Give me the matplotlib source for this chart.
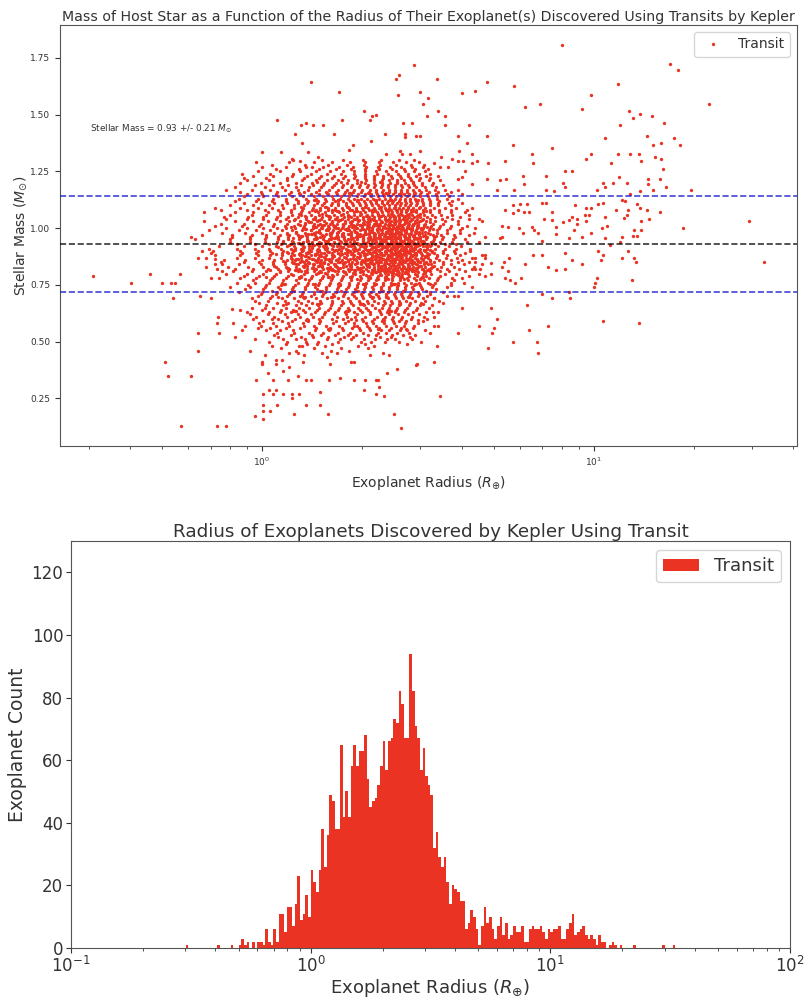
import matplotlib
matplotlib.use('Agg')
import numpy as np
import matplotlib.pyplot as plt

RED = '#EA3323'
INK = '#333333'

# host star mass and exoplanet radius, sparse parts
outer_points = [
    (2.87,1.72),(2.59,1.675),(2.53,1.655),(1.40,1.645),(1.71,1.60),(2.57,1.585),(2.99,1.60),(3.17,1.575),(3.05,1.545),(3.15,1.495),
    (2.03,1.515),(2.2,1.50),(2.15,1.495),(2.11,1.475),(1.11,1.475),(1.74,1.475),(1.36,1.465),(1.31,1.455),(1.42,1.455),(1.53,1.455),
    (1.26,1.415),(1.65,1.415),(2.66,1.465),(2.83,1.465),(2.35,1.415),(2.7,1.415),(2.7,1.40),(2.91,1.405),(2.99,1.405),(2.13,1.385),
    (1.32,1.375),(1.88,1.365),(1.83,1.345),(1.0,1.335),(1.14,1.335),(1.38,1.335),(2.6,1.34),(2.64,1.325),(2.36,1.325),(2.8,1.325),
    (3.0,1.34),(1.23,1.305),(1.47,1.315),(1.3,1.295),(1.41,1.27),(8.0,1.805),(17,1.725),(18,1.695),(3.37,1.655),(4.76,1.645),
    (5.75,1.625),(4.0,1.595),(4.4,1.605),(11.8,1.635),(9.8,1.585),(9.2,1.525),(6.2,1.535),(6.9,1.545),(22.2,1.545),(12.8,1.515),
    (13.1,1.485),(13.8,1.505),(15,1.495),(16.3,1.465),(12,1.455),(3.4,1.515),(3.56,1.495),(3.56,1.455),(4.2,1.455),(3.9,1.405),
    (4.76,1.405),(10.8,1.395),(14.5,1.405),(17.5,1.395),(4.15,1.375),(5.7,1.365),(7.5,1.355),(15.1,1.365),(16,1.375),(18.2,1.365),
    (3.93,1.34),(4.3,1.325),(6.5,1.325),(9.8,1.325),(9.5,1.305),(11.8,1.325),(12.9,1.325),(13.7,1.325),(15.3,1.315),(16,1.305),
    (13.9,1.295),(11.3,1.285),(5.4,1.295),(6.55,1.285),(4.8,1.285),(4.3,1.285),(4.45,1.295),(3.47,1.315),(3.74,1.305),(3.9,1.295),
    (4.03,1.295),(3.3,1.285),(3.45,1.27),(3.64,1.27),(16.2,1.26),(8.2,1.25),(8.6,1.25),(4.1,1.25),(6.1,1.23),(7.2,1.23),
    (11.9,1.225),(4.0,1.225),(3.9,1.215),(4.76,1.215),(5.2,1.21),(5.45,1.215),(8.1,1.2),(10.7,1.2),(11.4,1.2),(12.6,1.2),
    (14.6,1.215),(15.8,1.215),(14.6,1.195),(6.15,1.195),(4.3,1.195),(16.5,1.18),(19.6,1.17),(8.2,1.18),(7.2,1.17),(13.8,1.165),
    (15.1,1.17),(10.2,1.17),(10.8,1.18),(5.1,1.17),(5.75,1.17),(7.6,1.163),(29.3,1.03),(18.6,1.0),(15.8,1.07),(14.7,1.04),
    (14.5,1.08),(13.9,1.03),(13.5,1.105),(13.8,1.09),(12.9,1.15),(12.2,1.125),(12.4,1.12),(12.7,1.08),(12.3,1.045),(11.7,1.08),
    (12.6,1.06),(13.2,0.99),(13.9,0.99),(13.5,0.965),(13.1,0.965),(10.7,1.11),(10.3,1.105),(9.8,1.09),(9.5,1.09),(9.7,1.06),
    (9.4,1.06),(8.9,1.04),(8.6,1.05),(8.8,1.10),(8.1,1.025),(8.4,1.035),(8.9,1.02),(8.7,0.99),(8.4,0.955),(9.2,0.96),
    (9.5,1.03),(10.8,1.05),(11,1.01),(9.8,0.98),(10.6,1.0),(10.8,0.955),(11.2,0.925),(12,0.94),(12.2,0.96),(7.5,1.07),
    (7.1,1.04),(7.5,1.035),(7.7,1.005),(7.7,0.975),(7.0,1.11),(7.2,1.11),(5.7,1.10),(5.4,1.08),(5.7,1.065),(5.9,1.08),
    (6.0,1.105),(6.3,1.105),(6.15,1.07),(6.4,1.07),(5.3,1.01),(5.5,1.005),(5.2,0.955),(5.3,0.96),(5.95,1.0),(6.1,0.98),
    (6.5,1.005),(6.6,0.99),(6.8,0.98),(7.0,0.945),(4.7,0.96),(4.6,1.03),(4.5,1.04),(32.6,0.85),(13.7,0.58),(10.7,0.59),
    (13,0.77),(13.2,0.87),(13.4,0.85),(12.2,0.87),(12.7,0.90),(10.5,0.86),(10.7,0.88),(10.2,0.78),(10.1,0.76),(10,0.74),
    (10.3,0.90),(9.2,0.84),(8.6,0.86),(8.2,0.82),(8.2,0.89),(8.4,0.72),(8.5,0.69),(7.5,0.69),(7.0,0.71),(7.3,0.83),
    (7.7,0.815),(7.0,0.88),(6.55,0.88),(6.2,0.84),(6.05,0.78),(5.8,0.76),(5.6,0.77),(5.4,0.78),(5.55,0.87),(5.35,0.85),
    (5.3,0.83),(5.5,0.81),(4.9,0.845),(4.9,0.80),(4.7,0.79),(4.54,0.82),(4.4,0.85),(4.7,0.88),(4.4,0.87),(4.3,0.82),
    (4.2,0.79),(4.0,0.78),(3.8,0.70),(4,0.65),(4.9,0.65),(6.3,0.66),(5.1,0.60),(4.5,0.57),(5.0,0.56),(4.95,0.54),
    (6.4,0.55),(7.3,0.57),(5.7,0.50),(6.75,0.50),(4.8,0.47),(6.8,0.45),(3.9,0.54),(3.3,0.41),(3.45,0.26),(3.3,0.69),
    (3.27,0.63),(3.4,0.63),(3.3,0.61),(3.3,0.57),(0.31,0.79),(0.403,0.76),(0.46,0.80),(0.50,0.76),(0.53,0.76),(0.547,0.76),
    (0.566,0.80),(0.54,0.69),(0.64,0.87),(0.66,0.90),(0.68,0.83),(0.70,0.78),(0.65,0.70),(0.70,0.69),(0.72,0.865),(0.72,0.84),
    (0.76,0.81),(0.74,0.78),(0.81,0.645),(0.86,0.64),(0.735,0.61),(0.73,0.58),(0.74,0.54),(0.64,0.54),(0.64,0.46),(0.82,0.58),
    (0.83,0.52),(0.89,0.57),(0.87,0.55),(0.95,0.51),(0.92,0.62),(0.93,0.65),(0.92,0.46),(0.51,0.41),(0.52,0.35),(0.61,0.35),
    (0.57,0.13),(0.73,0.13),(0.78,0.13),(0.95,0.17),(1.01,0.16),(1.01,0.22),(1.01,0.195),(1.06,0.195),(1.11,0.22),(1.25,0.18),
    (1.36,0.22),(1.5,0.22),(1.58,0.18),(2.5,0.18),(2.62,0.12),(0.96,0.33),(1.08,0.33),(1.2,0.33),(1.36,0.33),(1.4,0.33),
    (1.59,0.33),(1.72,0.34),(1.9,0.33),(2.04,0.33),(2.2,0.33),(2.24,0.33),(2.03,0.288),(2.25,0.30),(2.2,0.27),(2.33,0.26),
    (1.5,0.28),(1.05,0.288),(1.1,0.288),(1.01,0.27),(1.08,0.27),(1.16,0.27),(1.23,0.27),(1.23,0.25),(1.29,0.27),(1.04,0.36),
    (1.16,0.37),(1.21,0.39),(1.28,0.35),(1.0,0.41),(1.0,0.40),(1.1,0.42),(1.1,0.40),(1.15,0.42),(1.33,0.41),(1.57,0.43),
    (1.6,0.40),(1.85,0.41),(1.9,0.41),(2.38,0.36),(2.55,0.38),(2.91,0.395),(2.94,0.40),
]

# denser parts, one row of radii per stellar mass value
row_mass = [0.46,0.44,0.47,0.45,0.49,0.48,0.52,0.50,0.53,0.51,0.55,0.58,0.54,0.56,0.59,0.57,0.62,0.60,0.64,0.61,0.66,0.63,0.67,0.65,0.69,0.71,0.68,0.73,0.70,0.75,0.72,0.77,0.74,0.79,0.76,0.80,0.78]
row_radii = [
    [1.27,1.61,1.83],
    [1.02,1.34,2.12,2.41],
    [1.14,1.43,1.73,2.09],
    [1.21,1.28,1.52,1.68,2.31],
    [1.18,1.37,1.46,1.63,2.05,2.74],
    [1.07,1.29,1.32,1.55,1.95,2.17,3.36],
    [1.12,1.31,1.42,1.58,1.77,1.88,2.27,2.45,2.79],
    [1.05,1.19,1.36,1.47,1.69,1.99,2.13,2.34,2.58,3.02],
    [1.09,1.22,1.41,1.51,1.66,1.81,1.92,2.08,2.21,2.47,2.66,2.9],
    [1.16,1.27,1.35,1.57,1.72,1.86,2.03,2.19,2.38,2.52,2.83],
    [1.03,1.13,1.24,1.44,1.59,1.75,1.97,2.11,2.29,2.42,2.61,2.74,3.1],
    [0.98,1.08,1.2,1.33,1.48,1.64,1.78,1.9,2.06,2.16,2.33,2.5,2.69,2.95],
    [1.11,1.25,1.39,1.53,1.7,1.84,2.01,2.24,2.37,2.55,2.78,3.2],
    [0.97,1.06,1.18,1.3,1.45,1.6,1.74,1.87,1.96,2.1,2.26,2.44,2.63,2.86],
    [1.01,1.15,1.23,1.38,1.5,1.67,1.82,2.02,2.14,2.3,2.48,2.59,2.72,3.05],
    [0.99,1.1,1.21,1.34,1.43,1.56,1.71,1.89,1.94,2.07,2.2,2.36,2.53,2.67,2.88,3.4],
    [1.04,1.17,1.28,1.4,1.54,1.65,1.79,1.93,2.12,2.28,2.41,2.57,2.76,2.98],
    [0.94,1.07,1.12,1.26,1.37,1.49,1.62,1.76,1.85,2.0,2.18,2.32,2.46,2.62,2.81,3.15],
    [1.0,1.14,1.24,1.33,1.46,1.58,1.7,1.83,1.98,2.09,2.25,2.39,2.54,2.7,2.92],
    [0.96,1.09,1.19,1.3,1.42,1.52,1.68,1.8,1.91,2.05,2.22,2.35,2.49,2.65,2.84,3.08],
    [1.03,1.16,1.27,1.36,1.47,1.61,1.73,1.88,2.03,2.15,2.31,2.43,2.58,2.77,2.99,3.25],
    [0.9,1.05,1.13,1.22,1.35,1.44,1.55,1.66,1.78,1.9,2.0,2.11,2.27,2.38,2.52,2.68,2.86,3.12],
    [0.98,1.11,1.2,1.31,1.41,1.51,1.63,1.75,1.86,1.97,2.08,2.23,2.34,2.47,2.6,2.79,3.02,3.5],
    [1.02,1.08,1.18,1.29,1.39,1.48,1.6,1.71,1.82,1.95,2.06,2.19,2.3,2.42,2.56,2.73,2.94,3.18],
    [0.93,1.06,1.15,1.25,1.34,1.45,1.57,1.69,1.81,1.92,2.02,2.14,2.26,2.4,2.53,2.66,2.83,3.06,3.3],
    [0.99,1.1,1.21,1.32,1.43,1.53,1.64,1.77,1.87,1.99,2.1,2.21,2.36,2.5,2.63,2.8,2.97,3.22],
    [0.95,1.04,1.17,1.28,1.38,1.5,1.62,1.74,1.84,1.96,2.07,2.18,2.33,2.45,2.59,2.71,2.9,3.1,3.42],
    [0.89,1.01,1.13,1.23,1.35,1.46,1.56,1.68,1.79,1.91,2.03,2.16,2.29,2.41,2.55,2.69,2.85,3.04,3.35],
    [0.97,1.07,1.19,1.3,1.4,1.52,1.65,1.76,1.89,2.0,2.12,2.24,2.37,2.51,2.64,2.78,2.96,3.14,3.6,3.9],
    [0.91,1.03,1.14,1.26,1.37,1.47,1.59,1.72,1.83,1.94,2.05,2.17,2.31,2.44,2.57,2.72,2.87,3.0,3.27,3.7],
    [0.85,1.0,1.11,1.22,1.33,1.43,1.55,1.67,1.78,1.9,2.01,2.13,2.25,2.39,2.52,2.65,2.82,2.95,3.2,3.5],
    [0.94,1.06,1.16,1.27,1.39,1.5,1.61,1.73,1.85,1.97,2.09,2.2,2.34,2.47,2.6,2.75,2.91,3.08,3.38,3.8],
    [0.8,0.92,1.02,1.12,1.24,1.35,1.44,1.56,1.7,1.81,1.93,2.04,2.15,2.28,2.42,2.55,2.7,2.84,3.02,3.25,3.6,4.3],
    [0.88,0.98,1.09,1.2,1.31,1.41,1.53,1.64,1.75,1.87,1.98,2.1,2.23,2.36,2.49,2.62,2.77,2.93,3.12,3.45],
    [0.84,0.95,1.05,1.15,1.28,1.38,1.49,1.6,1.71,1.83,1.95,2.06,2.18,2.32,2.44,2.57,2.68,2.81,2.98,3.16,3.33,3.7,4.05],
    [0.78,0.9,1.01,1.1,1.22,1.34,1.45,1.57,1.68,1.79,1.91,2.02,2.14,2.27,2.39,2.53,2.64,2.76,2.89,3.05,3.24,3.55,3.85,4.5],
    [0.86,0.96,1.07,1.18,1.29,1.4,1.52,1.63,1.74,1.86,1.99,2.11,2.22,2.35,2.47,2.6,2.73,2.87,3.01,3.19,3.4,3.75],
]

core_mass = [0.85,0.81,0.88,0.83,0.91,0.86,0.82,0.94,0.89,0.84,0.97,0.92,0.87,1.00,0.95,0.90,1.03,0.98,0.93,1.01,0.96,1.04,0.99,1.02]
core_radii = [
    [0.75,0.88,0.98,1.08,1.17,1.23,1.3,1.38,1.46,1.54,1.61,1.69,1.78,1.87,1.94,2.03,2.12,2.2,2.28,2.37,2.45,2.52,2.61,2.7,2.79,2.88,2.99,3.13,3.3,3.52,3.9,4.2],
    [0.82,0.93,1.03,1.13,1.2,1.28,1.35,1.43,1.5,1.58,1.66,1.75,1.83,1.91,2.0,2.08,2.16,2.24,2.33,2.41,2.49,2.57,2.65,2.75,2.84,2.94,3.08,3.22,3.43,3.66,4.1],
    [0.72,0.86,0.97,1.06,1.15,1.25,1.32,1.4,1.48,1.56,1.64,1.72,1.8,1.89,1.97,2.05,2.14,2.22,2.3,2.39,2.47,2.55,2.63,2.72,2.81,2.91,3.03,3.17,3.36,3.6,3.95,4.6],
    [0.79,0.91,1.01,1.1,1.18,1.27,1.34,1.42,1.52,1.6,1.68,1.76,1.85,1.93,2.01,2.1,2.18,2.26,2.35,2.43,2.51,2.59,2.67,2.77,2.86,2.96,3.1,3.25,3.47,3.8,4.35],
    [0.69,0.84,0.95,1.05,1.14,1.22,1.31,1.39,1.47,1.55,1.63,1.71,1.79,1.88,1.96,2.04,2.13,2.21,2.29,2.38,2.46,2.54,2.62,2.71,2.8,2.9,3.0,3.15,3.32,3.55,3.85,4.25],
    [0.77,0.89,1.0,1.09,1.19,1.26,1.36,1.44,1.51,1.59,1.67,1.74,1.82,1.92,2.0,2.07,2.15,2.25,2.34,2.42,2.5,2.58,2.66,2.74,2.83,2.93,3.06,3.2,3.41,3.7,4.0],
    [0.73,0.83,0.94,1.04,1.12,1.21,1.29,1.37,1.45,1.53,1.62,1.7,1.81,1.86,1.98,2.06,2.17,2.23,2.31,2.4,2.48,2.56,2.64,2.73,2.82,2.92,3.04,3.18,3.38,3.62,3.92,4.4],
    [0.8,0.92,1.02,1.11,1.16,1.24,1.33,1.41,1.49,1.57,1.65,1.73,1.84,1.9,2.02,2.09,2.19,2.27,2.36,2.44,2.52,2.6,2.68,2.76,2.85,2.95,3.07,3.23,3.45,3.75,4.15,4.5],
    [0.7,0.87,0.96,1.07,1.15,1.23,1.3,1.38,1.46,1.54,1.62,1.7,1.78,1.87,1.95,2.03,2.11,2.2,2.28,2.37,2.45,2.53,2.61,2.7,2.79,2.89,3.01,3.14,3.31,3.5,3.82,4.1],
    [0.76,0.85,0.99,1.08,1.17,1.27,1.35,1.43,1.5,1.58,1.66,1.75,1.83,1.91,1.99,2.08,2.16,2.24,2.33,2.41,2.49,2.57,2.65,2.75,2.84,2.94,3.08,3.24,3.5,3.72,4.05,4.6],
    [0.66,0.81,0.93,1.03,1.13,1.21,1.28,1.36,1.44,1.52,1.6,1.68,1.76,1.85,1.93,2.01,2.1,2.18,2.26,2.35,2.43,2.51,2.59,2.68,2.77,2.87,2.98,3.11,3.28,3.46,3.78,4.2],
    [0.74,0.88,1.0,1.1,1.19,1.25,1.33,1.41,1.49,1.56,1.64,1.72,1.81,1.9,1.98,2.06,2.14,2.23,2.32,2.4,2.48,2.56,2.64,2.73,2.82,2.92,3.05,3.2,3.4,3.65,3.98],
    [0.68,0.84,0.95,1.05,1.14,1.22,1.31,1.39,1.47,1.55,1.63,1.71,1.79,1.88,1.96,2.04,2.13,2.21,2.29,2.38,2.46,2.54,2.62,2.71,2.8,2.9,3.02,3.16,3.35,3.58,3.88,4.3,4.7],
    [0.78,0.9,1.01,1.11,1.18,1.26,1.34,1.42,1.51,1.59,1.67,1.74,1.82,1.92,2.0,2.07,2.15,2.25,2.34,2.42,2.5,2.58,2.66,2.74,2.83,2.93,3.06,3.21,3.42,3.68,4.0,4.4],
    [0.63,0.8,0.92,1.02,1.12,1.2,1.29,1.37,1.45,1.53,1.61,1.69,1.77,1.86,1.94,2.02,2.11,2.19,2.27,2.36,2.44,2.52,2.6,2.69,2.78,2.88,2.99,3.12,3.29,3.48,3.76,4.1],
    [0.71,0.86,0.97,1.06,1.16,1.24,1.32,1.4,1.48,1.57,1.65,1.73,1.84,1.89,2.01,2.09,2.17,2.26,2.35,2.43,2.51,2.59,2.67,2.77,2.86,2.96,3.1,3.26,3.5,3.8,4.25],
    [0.67,0.83,0.94,1.04,1.13,1.21,1.3,1.38,1.46,1.54,1.62,1.7,1.78,1.87,1.95,2.03,2.12,2.2,2.28,2.37,2.45,2.53,2.61,2.7,2.79,2.89,3.0,3.13,3.33,3.56,3.9],
    [0.76,0.89,1.0,1.09,1.19,1.27,1.35,1.43,1.5,1.6,1.68,1.76,1.85,1.93,2.05,2.1,2.18,2.3,2.39,2.47,2.55,2.63,2.72,2.81,2.91,3.03,3.17,3.36,3.6,3.95,4.35],
    [0.84,0.95,1.05,1.14,1.22,1.31,1.39,1.47,1.55,1.63,1.71,1.79,1.88,1.96,2.04,2.13,2.21,2.29,2.38,2.46,2.54,2.62,2.71,2.8,2.9,3.02,3.16,3.32,3.55,3.85],
    [0.72,0.87,0.98,1.08,1.17,1.25,1.34,1.42,1.52,1.58,1.66,1.75,1.83,1.91,2.0,2.08,2.16,2.24,2.33,2.41,2.49,2.57,2.65,2.75,2.84,2.94,3.08,3.24,3.44,3.7,4.15],
    [0.61,0.81,0.92,1.03,1.12,1.2,1.29,1.37,1.45,1.53,1.61,1.69,1.77,1.86,1.94,2.02,2.11,2.19,2.27,2.36,2.44,2.52,2.6,2.69,2.78,2.88,2.99,3.12,3.3,3.5,3.82],
    [0.78,0.9,1.01,1.1,1.18,1.26,1.36,1.44,1.51,1.59,1.67,1.74,1.82,1.92,2.01,2.09,2.15,2.25,2.34,2.42,2.5,2.58,2.66,2.74,2.83,2.93,3.06,3.22,3.48,3.75,4.2],
    [0.69,0.85,0.96,1.06,1.15,1.23,1.32,1.4,1.48,1.56,1.64,1.72,1.8,1.89,1.97,2.05,2.14,2.22,2.3,2.39,2.47,2.55,2.63,2.72,2.81,2.91,3.03,3.18,3.38,3.62,3.96],
    [0.75,0.88,0.99,1.09,1.19,1.28,1.35,1.43,1.5,1.6,1.68,1.76,1.85,1.93,2.03,2.1,2.18,2.26,2.35,2.43,2.51,2.59,2.67,2.77,2.86,2.96,3.11,3.28,3.52,3.9],
]

upper_mass = [1.07,1.05,1.09,1.06,1.11,1.08,1.13,1.10,1.15,1.12,1.14,1.17,1.16,1.19,1.18,1.21,1.20,1.23,1.22,1.25,1.24,1.27,1.26,1.29,1.28,1.30]
upper_radii = [
    [0.67,0.83,0.94,1.04,1.13,1.22,1.31,1.39,1.47,1.55,1.63,1.71,1.8,1.89,1.97,2.05,2.14,2.22,2.3,2.39,2.47,2.55,2.63,2.71,2.82,2.92,3.05,3.2,3.42,3.7,4.1],
    [0.77,0.91,1.01,1.11,1.2,1.28,1.36,1.44,1.52,1.6,1.68,1.77,1.85,1.93,2.01,2.1,2.18,2.26,2.35,2.43,2.51,2.59,2.68,2.77,2.87,3.0,3.14,3.33,3.6,3.95],
    [0.72,0.86,0.97,1.07,1.16,1.25,1.33,1.42,1.5,1.58,1.66,1.74,1.83,1.92,2.0,2.08,2.17,2.25,2.34,2.42,2.5,2.58,2.66,2.75,2.85,2.97,3.1,3.3,3.55,3.85,4.3],
    [0.8,0.93,1.03,1.13,1.23,1.31,1.4,1.48,1.56,1.65,1.73,1.81,1.9,1.98,2.07,2.15,2.24,2.32,2.4,2.48,2.57,2.65,2.74,2.84,2.95,3.08,3.25,3.46,3.75,4.2],
    [0.88,0.99,1.09,1.19,1.28,1.37,1.46,1.54,1.62,1.7,1.79,1.87,1.96,2.05,2.13,2.21,2.3,2.38,2.47,2.55,2.63,2.72,2.82,2.93,3.05,3.2,3.4,3.65,4.0],
    [0.75,0.9,1.02,1.12,1.22,1.32,1.41,1.5,1.58,1.66,1.75,1.84,1.92,2.01,2.1,2.19,2.28,2.36,2.45,2.53,2.62,2.71,2.81,2.92,3.06,3.22,3.42,3.7,4.15],
    [0.85,0.97,1.08,1.18,1.27,1.36,1.45,1.55,1.64,1.72,1.81,1.9,1.99,2.07,2.16,2.25,2.34,2.43,2.51,2.6,2.69,2.79,2.9,3.03,3.18,3.36,3.6,3.9],
    [0.8,0.94,1.05,1.15,1.25,1.34,1.43,1.52,1.61,1.7,1.79,1.88,1.97,2.06,2.15,2.24,2.33,2.42,2.51,2.6,2.7,2.8,2.92,3.05,3.2,3.4,3.7],
    [0.9,1.0,1.1,1.21,1.3,1.4,1.49,1.58,1.68,1.77,1.86,1.95,2.04,2.13,2.22,2.31,2.4,2.49,2.58,2.67,2.77,2.88,3.0,3.15,3.35,3.6,4.0],
    [0.83,0.96,1.07,1.18,1.28,1.38,1.47,1.56,1.66,1.75,1.84,1.94,2.03,2.12,2.21,2.3,2.4,2.49,2.59,2.69,2.79,2.91,3.04,3.2,3.42,3.75],
    [0.88,1.01,1.12,1.23,1.33,1.43,1.53,1.63,1.73,1.83,1.93,2.03,2.13,2.23,2.33,2.43,2.53,2.63,2.74,2.86,3.0,3.16,3.36,3.65],
    [0.78,0.93,1.06,1.17,1.28,1.38,1.49,1.59,1.7,1.8,1.9,2.0,2.11,2.21,2.31,2.41,2.52,2.62,2.73,2.85,2.98,3.13,3.32,3.55,3.9],
    [0.86,0.99,1.11,1.22,1.34,1.45,1.56,1.67,1.78,1.88,1.99,2.1,2.2,2.3,2.41,2.52,2.62,2.74,2.87,3.01,3.18,3.4,3.7],
    [0.95,1.08,1.2,1.31,1.42,1.53,1.65,1.76,1.87,1.97,2.08,2.19,2.3,2.4,2.51,2.63,2.75,2.88,3.04,3.25,3.5],
    [0.83,1.02,1.15,1.27,1.39,1.51,1.62,1.74,1.85,1.96,2.07,2.18,2.29,2.4,2.52,2.64,2.77,2.92,3.1,3.35],
    [0.9,1.05,1.19,1.32,1.45,1.57,1.7,1.82,1.94,2.06,2.18,2.3,2.42,2.55,2.68,2.82,2.98,3.18,3.45],
    [0.86,0.99,1.13,1.27,1.41,1.54,1.67,1.8,1.93,2.05,2.17,2.3,2.43,2.56,2.7,2.85,3.03,3.28],
    [0.94,1.08,1.23,1.37,1.51,1.65,1.78,1.91,2.04,2.17,2.31,2.45,2.6,2.75,2.92,3.12,3.4],
    [0.88,1.03,1.19,1.34,1.48,1.62,1.76,1.9,2.04,2.18,2.32,2.47,2.63,2.8,2.99,3.22],
    [0.97,1.13,1.3,1.45,1.6,1.75,1.9,2.05,2.2,2.36,2.53,2.7,2.88,3.1],
    [0.87,1.06,1.24,1.4,1.57,1.73,1.89,2.05,2.22,2.39,2.57,2.76,2.97,3.2],
    [1.0,1.18,1.36,1.53,1.71,1.88,2.06,2.24,2.43,2.62,2.83,3.06],
    [1.1,1.29,1.48,1.67,1.86,2.05,2.25,2.46,2.67,2.9,3.16],
    [0.96,1.21,1.43,1.63,1.84,2.04,2.26,2.48,2.72,2.98],
    [1.07,1.35,1.58,1.8,2.03,2.27,2.53,2.81,3.08],
    [1.24,1.52,1.76,2.02,2.29,2.58,2.88],
]

# clumps in the crowded middle of the cloud, half a step between the rows above
fill_mass = [0.555,0.595,0.635,0.665,0.695,0.725,0.755,0.785,0.805,0.815,0.825,0.835,0.845,0.855,0.865,0.875,0.885,0.895,0.905,0.915,0.925,0.935,0.945,0.955,0.965,0.975,0.985,0.995,1.005,1.015,1.025,1.035,1.055,1.075,1.095,1.125,1.155,1.205]
fill_radii = [
    [1.58,1.6,2.23,2.25,2.71],
    [1.36,1.38,1.92,2.31,2.33,2.96],
    [1.24,1.26,1.27,1.79,1.81,2.42,2.44,2.52],
    [1.18,1.46,1.48,1.97,2.0,2.02,2.58,2.6,3.05],
    [1.12,1.33,1.35,1.61,1.63,2.14,2.16,2.37,2.38,2.75,2.77],
    [1.07,1.23,1.25,1.5,1.52,1.73,1.93,1.95,2.28,2.3,2.31,2.66,2.67,3.12],
    [1.16,1.17,1.42,1.44,1.69,1.71,1.72,2.02,2.04,2.21,2.48,2.5,2.51,2.89,2.91,3.2],
    [1.03,1.29,1.3,1.31,1.58,1.59,1.84,1.86,2.09,2.11,2.34,2.36,2.37,2.61,2.63,2.64,3.03,3.05],
    [1.13,1.36,1.37,1.48,1.5,1.51,1.77,1.78,1.97,2.19,2.2,2.21,2.44,2.46,2.47,2.7,2.72,2.73,2.95,3.09],
    [1.06,1.26,1.27,1.28,1.63,1.64,1.9,1.91,2.14,2.15,2.31,2.32,2.33,2.53,2.54,2.55,2.84,2.85,3.14,3.16],
    [1.19,1.2,1.41,1.42,1.57,1.58,1.72,1.98,1.99,2.25,2.26,2.41,2.42,2.43,2.66,2.67,2.68,2.92,2.93,3.24],
    [1.09,1.33,1.34,1.47,1.48,1.66,1.67,1.84,1.85,2.07,2.08,2.29,2.3,2.5,2.51,2.52,2.76,2.77,3.0,3.02,3.3],
    [1.24,1.25,1.38,1.39,1.53,1.54,1.76,1.77,1.94,2.13,2.14,2.36,2.37,2.59,2.6,2.61,2.85,2.86,3.08,3.09],
    [1.16,1.31,1.32,1.45,1.46,1.6,1.61,1.81,1.82,2.03,2.04,2.22,2.23,2.44,2.45,2.46,2.69,2.7,2.95,2.96,3.21],
    [1.27,1.28,1.41,1.42,1.55,1.56,1.7,1.89,1.9,2.11,2.12,2.31,2.32,2.52,2.53,2.54,2.78,2.79,3.04,3.05],
    [1.22,1.35,1.36,1.5,1.51,1.64,1.65,1.97,1.98,2.19,2.2,2.39,2.4,2.58,2.59,2.6,2.83,2.84,3.11,3.12,3.37],
    [1.1,1.29,1.3,1.44,1.45,1.73,1.74,1.86,2.06,2.07,2.27,2.28,2.47,2.48,2.49,2.66,2.67,2.9,2.91,3.18],
    [1.19,1.38,1.39,1.58,1.59,1.8,1.81,2.0,2.01,2.16,2.17,2.35,2.36,2.55,2.56,2.57,2.74,2.75,2.99,3.26],
    [1.25,1.26,1.47,1.48,1.67,1.68,1.92,1.93,2.09,2.1,2.25,2.26,2.44,2.45,2.62,2.63,2.64,2.82,2.83,3.07,3.08],
    [1.12,1.33,1.34,1.54,1.55,1.75,1.76,2.03,2.04,2.18,2.19,2.33,2.34,2.5,2.51,2.52,2.69,2.7,2.89,2.9,3.15],
    [1.21,1.42,1.43,1.62,1.63,1.84,1.85,1.98,2.12,2.13,2.27,2.28,2.41,2.42,2.59,2.6,2.61,2.77,2.78,2.97,2.98,3.23],
    [1.28,1.29,1.5,1.51,1.71,1.72,1.93,1.94,2.06,2.2,2.21,2.37,2.38,2.48,2.49,2.55,2.66,2.67,2.86,2.87,3.06],
    [1.16,1.37,1.38,1.57,1.58,1.78,1.79,2.01,2.02,2.15,2.3,2.31,2.45,2.46,2.62,2.63,2.64,2.81,2.82,3.01,3.27],
    [1.24,1.45,1.46,1.65,1.66,1.87,1.88,2.09,2.1,2.24,2.25,2.4,2.41,2.56,2.57,2.71,2.72,2.92,2.93,3.13],
    [1.31,1.32,1.53,1.54,1.74,1.75,1.96,1.97,2.17,2.18,2.33,2.34,2.49,2.5,2.68,2.69,2.85,2.86,3.06,3.34],
    [1.19,1.4,1.41,1.6,1.61,1.82,1.83,2.05,2.06,2.28,2.29,2.43,2.44,2.6,2.61,2.78,2.79,2.98,3.2],
    [1.27,1.48,1.49,1.69,1.7,1.91,1.92,2.13,2.14,2.36,2.37,2.53,2.54,2.7,2.71,2.9,2.91,3.1],
    [1.35,1.36,1.57,1.58,1.78,1.79,2.0,2.01,2.22,2.23,2.45,2.46,2.64,2.65,2.82,2.83,3.02,3.28],
    [1.22,1.44,1.45,1.65,1.66,1.87,1.88,2.09,2.1,2.31,2.32,2.55,2.56,2.74,2.75,2.95,3.15],
    [1.3,1.53,1.54,1.75,1.76,1.97,1.98,2.19,2.2,2.4,2.41,2.62,2.63,2.85,2.86,3.08],
    [1.39,1.4,1.62,1.63,1.84,1.85,2.07,2.08,2.29,2.3,2.5,2.51,2.72,2.73,2.96,3.22],
    [1.25,1.48,1.49,1.71,1.72,1.95,1.96,2.17,2.18,2.38,2.39,2.59,2.6,2.81,3.04],
    [1.35,1.58,1.59,1.82,1.83,2.06,2.07,2.28,2.29,2.49,2.5,2.7,2.71,2.93],
    [1.44,1.68,1.69,1.92,1.93,2.16,2.17,2.39,2.4,2.62,2.63,2.85,3.12],
    [1.31,1.55,1.56,1.8,1.81,2.04,2.05,2.27,2.28,2.51,2.52,2.76,3.0],
    [1.43,1.44,1.69,1.7,1.94,1.95,2.19,2.2,2.44,2.45,2.69,2.95],
    [1.29,1.57,1.83,1.84,2.09,2.1,2.36,2.37,2.63,2.9],
    [1.46,1.73,1.99,2.27,2.28,2.56,2.85],
]

# second pass over the densest blob around 2.5 Earth radii and 0.9 solar masses
blob_mass = [0.775,0.795,0.803,0.812,0.822,0.832,0.842,0.852,0.862,0.872,0.882,0.892,0.902,0.912,0.922,0.932,0.942,0.952,0.962,0.972,0.982,0.992,1.002,1.012,1.022,1.042,1.062,1.082]
blob_radii = [
    [1.35,1.93,2.24,2.39,2.68,3.0],
    [1.24,1.62,2.06,2.29,2.46,2.57,2.94],
    [1.47,1.55,1.88,2.13,2.35,2.49,2.58,2.69,3.11],
    [1.31,1.69,2.02,2.27,2.38,2.47,2.56,2.74,2.88],
    [1.21,1.44,1.6,1.95,2.18,2.29,2.36,2.62,2.71,2.8,3.06],
    [1.37,1.52,1.79,2.1,2.23,2.34,2.45,2.53,2.66,2.98],
    [1.28,1.42,1.65,1.86,2.06,2.17,2.41,2.49,2.58,2.75,2.91,3.17],
    [1.34,1.5,1.72,1.99,2.25,2.35,2.44,2.63,2.68,2.81,3.0],
    [1.23,1.47,1.59,1.84,2.09,2.19,2.3,2.38,2.5,2.61,2.73,2.94],
    [1.38,1.54,1.77,1.93,2.14,2.26,2.43,2.56,2.65,2.8,3.1],
    [1.3,1.44,1.62,1.88,2.03,2.22,2.33,2.42,2.53,2.7,2.85,3.03],
    [1.2,1.36,1.51,1.7,1.96,2.11,2.29,2.47,2.59,2.68,2.77,2.92],
    [1.33,1.46,1.66,1.82,2.07,2.2,2.39,2.52,2.64,2.72,2.98,3.2],
    [1.26,1.41,1.57,1.74,1.91,2.15,2.3,2.44,2.55,2.67,2.84],
    [1.39,1.53,1.68,1.86,2.0,2.24,2.36,2.49,2.58,2.75,2.94,3.12],
    [1.31,1.46,1.6,1.78,1.95,2.11,2.28,2.43,2.62,2.71,2.88],
    [1.23,1.37,1.55,1.72,1.89,2.08,2.21,2.34,2.53,2.66,2.81,3.05],
    [1.43,1.59,1.81,2.02,2.16,2.31,2.47,2.6,2.73,2.93],
    [1.3,1.5,1.67,1.92,2.12,2.26,2.4,2.57,2.69,2.87,3.14],
    [1.38,1.56,1.74,1.98,2.19,2.35,2.5,2.63,2.79],
    [1.27,1.45,1.63,1.85,2.05,2.23,2.44,2.59,2.72,2.97],
    [1.4,1.58,1.83,2.1,2.29,2.41,2.54,2.68,2.84],
    [1.33,1.52,1.7,1.94,2.15,2.37,2.49,2.65,2.78,3.02],
    [1.47,1.64,1.88,2.07,2.27,2.46,2.61,2.76,2.95],
    [1.35,1.56,1.78,2.01,2.2,2.42,2.58,2.7,2.9],
    [1.42,1.66,1.9,2.12,2.34,2.52,2.67,2.83],
    [1.29,1.52,1.75,1.99,2.23,2.44,2.6,2.78,3.0],
    [1.45,1.62,1.87,2.14,2.38,2.56,2.74],
]

mass_mean = 0.93
mass_std = 0.21

# histogram: 90 log bins per decade from 0.1 to 100
hist_low = [0]*43 + [1] + [0]*11 + [1] + [0]*4 + [1] + [0]*2 + [1,3,1,2,0,2,0,2,2,1,6,2,1,6,2,11,11,5,13,13,7,14,23,9,11,17,10]
hist_peak = [25,21,18,25,38,26,36,49,47,38,38,65,42,50,42,58,65,58,63,63,68,54,45,47,48,52,58,66,57,66,67,73,72,82,78,67,67,94,82,71,67,57,64,55,52,49,32,37,29,26,29]
hist_tail = [21,14,20,19,18,15,15,6,8,12,10,6,1,7,13,8,10,6,3,7,10,4,8,3,4,7,5,5,7,2,2,6,7,6,6,7,5,3,6,5,6,6,7,3,3,6,8,11,4,5,6,7,4,3,4,3,1,4,2,2,0,1,2,1,0,1,0,0,0,0,1,0,0,0,0,0,0,0,0,0,0,1,0,0,0,1]
hist_counts = hist_low + hist_peak + hist_tail
hist_edges = np.logspace(-1, -1 + len(hist_counts) / 90, len(hist_counts) + 1)

radius = [p[0] for p in outer_points]
mass = [p[1] for p in outer_points]
for masses, radii in ((row_mass, row_radii), (core_mass, core_radii), (upper_mass, upper_radii), (fill_mass, fill_radii), (blob_mass, blob_radii)):
    for m, rr in zip(masses, radii):
        radius += rr
        mass += [m] * len(rr)

plt.rcParams['text.color'] = INK
plt.rcParams['axes.labelcolor'] = INK
plt.rcParams['xtick.color'] = INK
plt.rcParams['ytick.color'] = INK
plt.rcParams['axes.edgecolor'] = '#555555'

fig = plt.figure(figsize=(8.09, 10), dpi=100)

ax1 = fig.add_axes([60 / 809, 0.554, 737 / 809, 0.421])
ax1.plot(radius, mass, '.', color=RED, ms=4.8, mew=0, label='Transit', zorder=2)
ax1.axhline(mass_mean, color='black', ls='--', lw=1.2, alpha=0.8, zorder=3)
ax1.axhline(mass_mean + mass_std, color='#2222cc', ls='--', lw=1.2, alpha=0.85, zorder=3)
ax1.axhline(mass_mean - mass_std, color='#2222cc', ls='--', lw=1.2, alpha=0.85, zorder=3)
ax1.set_xscale('log')
ax1.set_xlim(0.246, 41)
ax1.set_ylim(0.04, 1.895)
ax1.set_yticks([0.25, 0.5, 0.75, 1.0, 1.25, 1.5, 1.75])
ax1.tick_params(labelsize=6.5)
ax1.set_xlabel(r'Exoplanet Radius ($R_{\oplus}$)', fontsize=10)
ax1.set_ylabel(r'Stellar Mass ($M_{\odot}$)', fontsize=10, labelpad=1)
ax1.set_title('Mass of Host Star as a Function of the Radius of Their Exoplanet(s) Discovered Using Transits by Kepler', fontsize=10.2, pad=3)
ax1.text(0.303, 1.44, r'Stellar Mass = 0.93 +/- 0.21 $M_{\odot}$', fontsize=6.4, va='center')
ax1.legend(loc='upper right', fontsize=10)

ax2 = fig.add_axes([71 / 809, 0.052, 719 / 809, 0.407])
ax2.stairs(hist_counts, hist_edges, fill=True, color=RED, label='Transit')
ax2.set_xscale('log')
ax2.set_xlim(0.1, 100)
ax2.set_ylim(0, 130)
ax2.set_yticks(range(0, 121, 20))
ax2.tick_params(labelsize=12, pad=2)
ax2.set_xlabel(r'Exoplanet Radius ($R_{\oplus}$)', fontsize=13, labelpad=1)
ax2.set_ylabel('Exoplanet Count', fontsize=13.5, labelpad=3)
ax2.set_title('Radius of Exoplanets Discovered by Kepler Using Transit', fontsize=13.2, pad=3)
ax2.legend(loc='upper right', fontsize=13)

fig.savefig('out.png', dpi=100)
